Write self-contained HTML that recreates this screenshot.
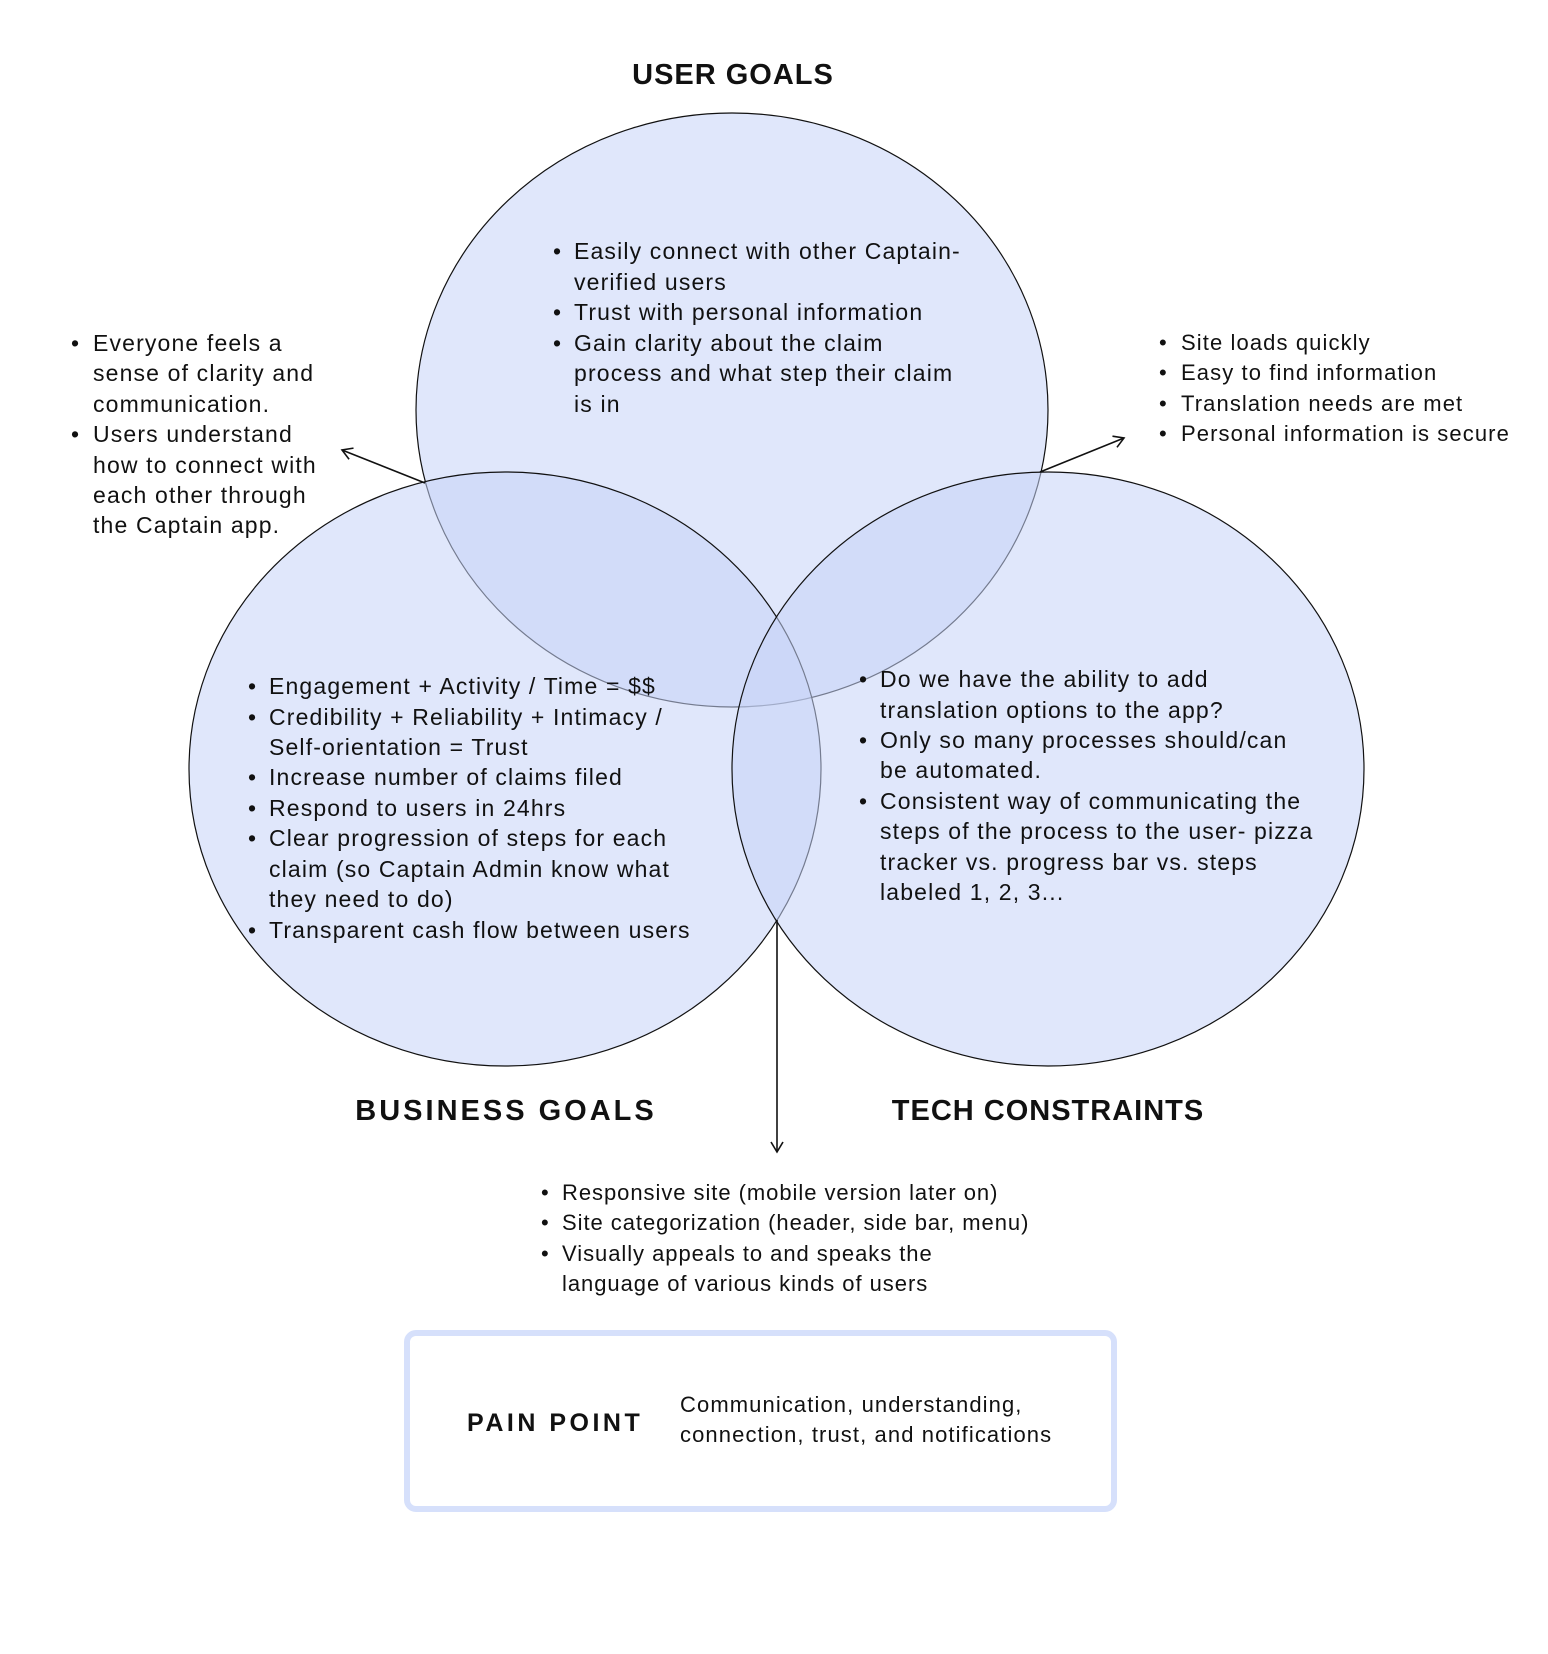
<!DOCTYPE html>
<html><head><meta charset="utf-8"><style>
html,body{margin:0;padding:0;background:#fff}
svg text{font-family:"Liberation Sans",sans-serif;fill:#111}
.t{font-size:23px;letter-spacing:1.15px}
.s{font-size:22px;letter-spacing:1.1px}
.b{font-size:22px;letter-spacing:0.95px}
.h{font-size:29px;font-weight:bold}
</style></head><body>
<svg width="1548" height="1649" viewBox="0 0 1548 1649" xmlns="http://www.w3.org/2000/svg">
<defs><marker id="a" markerWidth="14" markerHeight="14" refX="12" refY="7" orient="auto" markerUnits="userSpaceOnUse"><path d="M2,1 L12,7 L2,13" fill="none" stroke="#111" stroke-width="1.6"/></marker></defs>
<g stroke="#111" stroke-width="1.2">
<ellipse cx="732" cy="410" rx="316" ry="297" fill="rgba(198,212,248,0.55)"/>
<ellipse cx="505" cy="769" rx="316" ry="297" fill="rgba(198,212,248,0.55)"/>
<ellipse cx="1048" cy="769" rx="316" ry="297" fill="rgba(198,212,248,0.55)"/>
</g>
<g stroke="#111" stroke-width="1.6" fill="none">
<line x1="425" y1="483" x2="342" y2="450" marker-end="url(#a)"/>
<line x1="1040" y1="472" x2="1124" y2="438" marker-end="url(#a)"/>
<line x1="777" y1="920" x2="777" y2="1152" marker-end="url(#a)"/>
</g>
<text class="h" x="733" y="84" text-anchor="middle" letter-spacing="1">USER GOALS</text>
<text class="h" x="506" y="1120" text-anchor="middle" letter-spacing="3">BUSINESS GOALS</text>
<text class="h" x="1048" y="1120" text-anchor="middle" letter-spacing="1">TECH CONSTRAINTS</text>

<g class="t">
<text x="553" y="259">•</text><text x="574" y="259">Easily connect with other Captain-</text>
<text x="574" y="290">verified users</text>
<text x="553" y="320">•</text><text x="574" y="320">Trust with personal information</text>
<text x="553" y="351">•</text><text x="574" y="351">Gain clarity about the claim</text>
<text x="574" y="381">process and what step their claim</text>
<text x="574" y="412">is in</text>

<text x="71" y="351">•</text><text x="93" y="351">Everyone feels a</text>
<text x="93" y="381">sense of clarity and</text>
<text x="93" y="412">communication.</text>
<text x="71" y="442">•</text><text x="93" y="442">Users understand</text>
<text x="93" y="473">how to connect with</text>
<text x="93" y="503">each other through</text>
<text x="93" y="533">the Captain app.</text>

<text x="248" y="694">•</text><text x="269" y="694">Engagement + Activity / Time = $$</text>
<text x="248" y="725">•</text><text x="269" y="725">Credibility + Reliability + Intimacy /</text>
<text x="269" y="755">Self-orientation = Trust</text>
<text x="248" y="785">•</text><text x="269" y="785">Increase number of claims filed</text>
<text x="248" y="816">•</text><text x="269" y="816">Respond to users in 24hrs</text>
<text x="248" y="846">•</text><text x="269" y="846">Clear progression of steps for each</text>
<text x="269" y="877">claim (so Captain Admin know what</text>
<text x="269" y="907">they need to do)</text>
<text x="248" y="938">•</text><text x="269" y="938">Transparent cash flow between users</text>

<text x="859" y="687">•</text><text x="880" y="687">Do we have the ability to add</text>
<text x="880" y="718">translation options to the app?</text>
<text x="859" y="748">•</text><text x="880" y="748">Only so many processes should/can</text>
<text x="880" y="778">be automated.</text>
<text x="859" y="809">•</text><text x="880" y="809">Consistent way of communicating the</text>
<text x="880" y="839">steps of the process to the user- pizza</text>
<text x="880" y="870">tracker vs. progress bar vs. steps</text>
<text x="880" y="900">labeled 1, 2, 3...</text>
</g>
<g class="s">
<text x="1159" y="350">•</text><text x="1181" y="350">Site loads quickly</text>
<text x="1159" y="380">•</text><text x="1181" y="380">Easy to find information</text>
<text x="1159" y="411">•</text><text x="1181" y="411">Translation needs are met</text>
<text x="1159" y="441">•</text><text x="1181" y="441">Personal information is secure</text>
</g>
<g class="b">
<text x="541" y="1200">•</text><text x="562" y="1200">Responsive site (mobile version later on)</text>
<text x="541" y="1230">•</text><text x="562" y="1230">Site categorization (header, side bar, menu)</text>
<text x="541" y="1261">•</text><text x="562" y="1261">Visually appeals to and speaks the</text>
<text x="562" y="1291">language of various kinds of users</text>
</g>
<rect x="407" y="1333" width="707" height="176" rx="9" fill="#fff" stroke="#d6e0fb" stroke-width="6"/>
<text x="467" y="1431" font-size="25" font-weight="bold" letter-spacing="3.5">PAIN POINT</text>
<text class="s" x="680" y="1412" letter-spacing="1.2">Communication, understanding,</text>
<text class="s" x="680" y="1442" letter-spacing="1.2">connection, trust, and notifications</text>
</svg>
</body></html>
